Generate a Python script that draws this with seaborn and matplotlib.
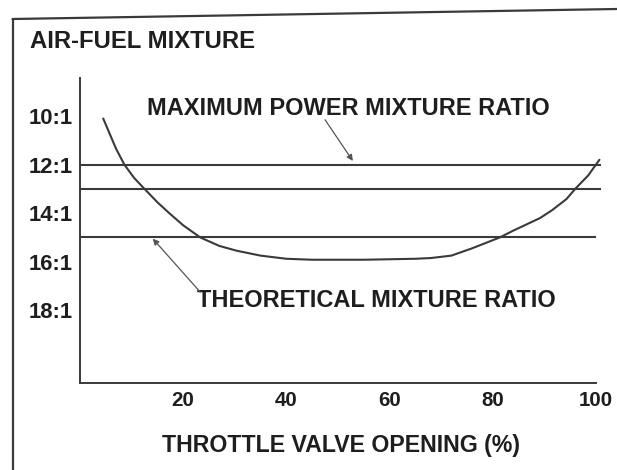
import matplotlib
matplotlib.use("Agg")
import matplotlib.pyplot as plt
import seaborn as sns
import pandas as pd
from matplotlib.lines import Line2D

# curve: throttle opening (%) vs air-fuel ratio (x:1)
throttle = [4.5, 5.5, 7.0, 8.6, 10.5, 12.5, 15, 17.3, 20, 23.3, 27, 30.4, 35, 40, 45, 50,
            55, 60, 65, 68, 72, 76, 79, 81.4, 84, 86.5, 89.2, 91.5, 94.3, 96, 98.5, 100.7]
afr = [10.1, 10.6, 11.35, 12.0, 12.55, 13.0, 13.55, 14.0, 14.5, 15.0, 15.35, 15.55, 15.75,
       15.88, 15.92, 15.92, 15.92, 15.9, 15.88, 15.85, 15.75, 15.45, 15.2, 15.0, 14.72,
       14.47, 14.2, 13.88, 13.42, 13.0, 12.45, 11.8]

# reference ratio lines (12:1 max power, 13:1, 15:1 theoretical)
ref_ratios = [12, 13, 15]
ref_ends = [101, 101, 100]

ytick_vals = [10, 12, 14, 16, 18]
ytick_labels = ["10:1", "12:1", "14:1", "16:1", "18:1"]
xtick_vals = [20, 40, 60, 80, 100]

df = pd.DataFrame({"throttle": throttle, "afr": afr})

sns.set_style("white")
plt.rcParams["font.family"] = ["Liberation Sans", "DejaVu Sans"]
plt.rcParams["font.weight"] = "bold"

ink = "#1e1e1e"
line_col = "#3a3a3a"

fig = plt.figure(figsize=(6.17, 4.70), dpi=100)
ax = fig.add_axes([80/617, 87/470, 521/617, 305/470])

sns.lineplot(data=df, x="throttle", y="afr", ax=ax, color=line_col, lw=1.5,
             sort=False, estimator=None)
for r, xe in zip(ref_ratios, ref_ends):
    ax.hlines(r, 0, xe, color=line_col, lw=1.5)

ax.set_xlim(0, 101)
ax.set_ylim(21.0, 8.43)

sns.despine(ax=ax)
ax.spines["bottom"].set_bounds(0, 100)
for s in ("left", "bottom"):
    ax.spines[s].set_color(line_col)
    ax.spines[s].set_linewidth(1.4)

ax.set_xticks(xtick_vals)
ax.set_xticks([10], minor=True)
ax.set_yticks(ytick_vals, ytick_labels)
ax.tick_params(axis="x", which="both", direction="in", length=3, width=1.2,
               color=line_col, pad=6, labelsize=14.8, labelcolor=ink)
ax.tick_params(axis="y", direction="out", length=3, width=1.2, color=line_col,
               pad=2, labelsize=15.8, labelcolor=ink)
for lab in ax.get_xticklabels() + ax.get_yticklabels():
    lab.set_fontweight("bold")

ax.set_xlabel("THROTTLE VALVE OPENING (%)", fontsize=16.7, fontweight="bold",
              color=ink, labelpad=17)
ax.set_ylabel("")

# labels with pointer arrows
ax.text(13.0, 9.67, "MAXIMUM POWER MIXTURE RATIO", fontsize=17.0, fontweight="bold",
        color=ink, va="center", ha="left")
ax.annotate("", xy=(52.9, 11.85), xytext=(47.5, 10.15),
            arrowprops=dict(arrowstyle="-|>", color="#555555", lw=0.9,
                            mutation_scale=9, shrinkA=0, shrinkB=0))
ax.text(22.6, 17.6, "THEORETICAL MIXTURE RATIO", fontsize=17.0, fontweight="bold",
        color=ink, va="center", ha="left")
ax.annotate("", xy=(14.1, 15.05), xytext=(23.3, 17.25),
            arrowprops=dict(arrowstyle="-|>", color="#555555", lw=0.9,
                            mutation_scale=9, shrinkA=0, shrinkB=0))

fig.text(30/617, 1 - 41/470, "AIR-FUEL MIXTURE", fontsize=17.2, fontweight="bold",
         color=ink, va="center", ha="left")

# border of the scanned figure
fig.add_artist(Line2D([12.5/617, 12.5/617], [0, 1 - 19/470], transform=fig.transFigure,
                      color=line_col, lw=1.6))
fig.add_artist(Line2D([12.5/617, 1], [1 - 19/470, 1 - 9/470], transform=fig.transFigure,
                      color=line_col, lw=1.6))

fig.savefig("out.png", dpi=100)
